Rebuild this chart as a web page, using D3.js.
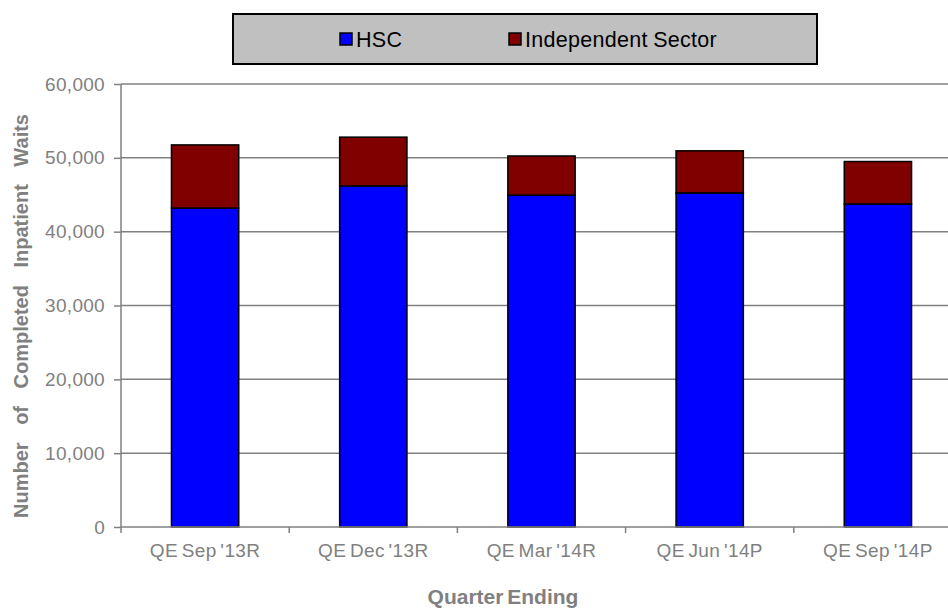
<!DOCTYPE html>
<html><head><meta charset="utf-8">
<script src="https://cdn.jsdelivr.net/npm/d3@7"></script>
<style>
body{margin:0;background:#fff;}
svg{display:block;font-family:"Liberation Sans",Arial,sans-serif;}
</style></head>
<body><svg id="c" width="948" height="610"></svg>
<script>
const categories = ["QE Sep '13R","QE Dec '13R","QE Mar '14R","QE Jun '14P","QE Sep '14P"];
const hsc = [43200, 46200, 44950, 45250, 43750];
const independent = [8550, 6600, 5300, 5700, 5750];
const seriesNames = ["HSC","Independent Sector"];
const seriesColors = ["#0000ff","#800000"];
const yTicks = [0,10000,20000,30000,40000,50000,60000];

(function(){
const svg = d3.select("#c");
const pL = 121, pR = 962, pT = 84, pB = 527;
const x = d3.scaleBand().domain(categories).range([pL, pR]).paddingInner(0.6).paddingOuter(0.3);
const y = d3.scaleLinear().domain([0,60000]).range([pB, pT]);
const grey = "#808080";
const ff = "Liberation Sans, Arial, sans-serif";

// gridlines
svg.append("g").selectAll("line").data(yTicks.filter(d=>d>0)).join("line")
  .attr("x1", pL).attr("x2", 948).attr("y1", d=>y(d)).attr("y2", d=>y(d))
  .attr("stroke", grey).attr("stroke-width", 1.5);

// stacked bars
const data = categories.map((c,i)=>({c, v:[hsc[i], independent[i]]}));
const stack = d3.stack().keys([0,1]).value((d,k)=>d.v[k])(data);
svg.append("g").selectAll("g").data(stack).join("g")
  .attr("fill",(d,i)=>seriesColors[i])
  .selectAll("rect").data(d=>d).join("rect")
  .attr("x", d=>x(d.data.c)).attr("width", x.bandwidth())
  .attr("y", d=>y(d[1])).attr("height", d=>y(d[0])-y(d[1]))
  .attr("stroke","#000").attr("stroke-width",1.5);

// y axis
const ya = svg.append("g").attr("transform",`translate(${pL},0)`)
  .call(d3.axisLeft(y).tickValues(yTicks).tickFormat(d3.format(",")).tickSize(7).tickPadding(9));
ya.select(".domain").attr("stroke",grey).attr("stroke-width",1.5).attr("d",`M0,${pT}V${pB}`);
ya.selectAll(".tick line").attr("stroke",grey).attr("stroke-width",1.5);
ya.selectAll(".tick text").attr("fill",grey).attr("font-size",19).attr("font-family",ff)
  .attr("letter-spacing","0.3px");

// x axis
const xa = svg.append("g").attr("transform",`translate(0,${pB})`)
  .call(d3.axisBottom(x).tickSize(0).tickPadding(17));
xa.select(".domain").attr("stroke",grey).attr("stroke-width",1.5).attr("d",`M${pL},0H948`);
xa.selectAll(".tick text").attr("fill",grey).attr("font-size",19).attr("font-family",ff)
  .attr("letter-spacing","0.4px").attr("word-spacing","-2px");
const bounds = categories.map(c=>x(c) - x.step()*x.paddingInner()/2).concat([pR]);
svg.append("g").selectAll("line").data(bounds).join("line")
  .attr("x1",d=>d).attr("x2",d=>d).attr("y1",pB).attr("y2",pB+6)
  .attr("stroke",grey).attr("stroke-width",1.5);

// axis titles
svg.append("text").attr("x",503).attr("y",604).attr("text-anchor","middle")
  .attr("font-weight","bold").attr("font-size",21).attr("fill",grey).attr("word-spacing","-2px")
  .text("Quarter Ending");
svg.append("text").attr("transform","translate(28,316) rotate(-90)").attr("text-anchor","middle")
  .attr("font-weight","bold").attr("font-size",20).attr("fill",grey).attr("word-spacing","12px")
  .text("Number of Completed Inpatient Waits");

// legend
svg.append("rect").attr("x",233).attr("y",14).attr("width",584).attr("height",50)
  .attr("fill","#c0c0c0").attr("stroke","#000").attr("stroke-width",2);
const legX = [340, 509];
const lg = svg.append("g").selectAll("g").data(seriesNames).join("g")
  .attr("transform",(d,i)=>`translate(${legX[i]},33)`);
lg.append("rect").attr("width",12).attr("height",12).attr("fill",(d,i)=>seriesColors[i])
  .attr("stroke","#000").attr("stroke-width",1.5);
lg.append("text").attr("x",16).attr("y",14).attr("font-size",21.5).attr("fill","#000")
  .attr("letter-spacing","0.3px").attr("word-spacing","-1px").text(d=>d);
})();
</script></body></html>
